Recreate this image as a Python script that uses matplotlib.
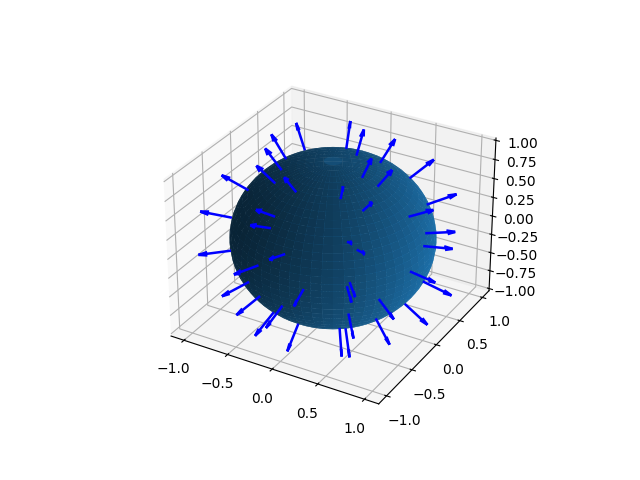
import numpy as np
import matplotlib
matplotlib.use("Agg")
import matplotlib.pyplot as plt

# 球面网格的角度 (度)
u_deg = [0, 6, 12, 18, 24, 30, 36, 42, 48, 54, 60, 66, 72, 78, 84, 90, 96, 102, 108, 114, 120, 126, 132, 138,
         144, 150, 156, 162, 168, 174, 180, 186, 192, 198, 204, 210, 216, 222, 228, 234, 240, 246, 252, 258,
         264, 270, 276, 282, 288, 294, 300, 306, 312, 318, 324, 330, 336, 342, 348, 354, 360]
v_deg = [0, 5, 10, 15, 20, 25, 30, 35, 40, 45, 50, 55, 60, 65, 70, 75, 80, 85, 90, 95, 100, 105, 110, 115,
         120, 125, 130, 135, 140, 145, 150, 155, 160, 165, 170, 175, 180]

# 箭头起点 (同时也是法向量)
arrow_x = [-.477, -.522, -.426, -.386, -.099, -.723, -.193, -.193, -.901, -.743, .029, -.249, -.394, -.271,
           .246, .001, -.289, .037, .303, .443, .590, .623, .606, .713, .807, .813, .970, .958, .970, .940,
           .827, .783, .540, .509, .318, .355, .110, -.074, .322, .537, .532, .624]
arrow_y = [.281, .005, -.236, -.420, -.513, -.363, -.742, -.819, -.395, -.669, -.934, -.960, -.903, -.909,
           -.969, -.949, -.641, -.724, -.398, -.529, -.734, -.773, -.794, -.425, -.020, -.555, -.239, .053,
           .020, .114, -.017, .437, .538, -.048, .348, -.071, .256, .383, -.417, -.386, -.665, -.644]
arrow_z = [.834, .853, .874, .820, .852, .589, .642, .540, .188, -.032, .356, .128, -.176, -.315, .004,
           -.315, -.711, -.689, -.860, -.724, -.337, .108, .063, -.559, -.589, -.180, .038, -.280, .210,
           .310, .562, .441, .648, .859, .882, .933, .960, .921, .849, .751, .525, .444]
arrow_len = 0.315

fig = plt.figure(figsize=(6.4, 4.8))
ax = fig.add_subplot(projection="3d")

# 画球面
u = np.radians(u_deg)
v = np.radians(v_deg)
x = np.outer(np.sin(v), np.cos(u))
y = np.outer(np.sin(v), np.sin(u))
z = np.outer(np.cos(v), np.ones_like(u))
ax.plot_surface(x, y, z, rstride=1, cstride=1)

# 画箭头
ax.quiver(arrow_x, arrow_y, arrow_z, arrow_x, arrow_y, arrow_z, length=arrow_len, color="b",
          linewidth=1.8, arrow_length_ratio=0.28)

ax.set_xlim(-1.15, 1.15)
ax.set_ylim(-1.15, 1.15)
ax.set_zlim(-1.03, 1.03)
ax.set_xticks([-1.0, -0.5, 0.0, 0.5, 1.0])
ax.set_yticks([-1.0, -0.5, 0.0, 0.5, 1.0])

fig.savefig("out.png", dpi=100)
